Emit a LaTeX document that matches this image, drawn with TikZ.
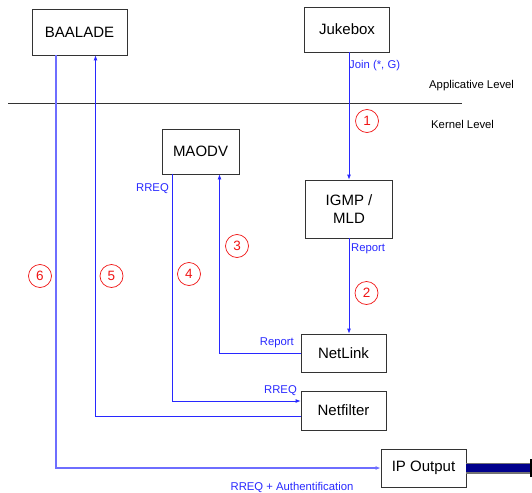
\documentclass[tikz,border=0pt]{standalone}
\usepackage{fontspec}
\setmainfont{Liberation Sans}
\usepackage{xcolor}
\usetikzlibrary{arrows.meta, positioning, calc}
\definecolor{msgblue}{RGB}{40, 40, 255}
\definecolor{paleblue}{RGB}{110, 110, 255}
\definecolor{stepred}{RGB}{240, 20, 20}
\definecolor{linknavy}{RGB}{0, 0, 140}

\tikzset{
  module/.style={draw=black!80, line width=0.8pt, fill=white, inner sep=2pt,
                 align=center, font=\fontsize{15}{18}\selectfont},
  msg/.style={draw=msgblue, line width=0.8pt},
  msgarrow/.style={msg, -{Latex[length=5pt, width=4pt]}},
  msglabel/.style={text=msgblue, inner sep=1pt, font=\fontsize{11.3}{13}\selectfont},
  levellabel/.style={inner sep=1pt, font=\fontsize{11.3}{13}\selectfont},
  stepmark/.style={circle, draw=stepred, text=stepred, line width=0.7pt,
                   minimum size=23pt, inner sep=0pt, font=\fontsize{13.5}{15}\selectfont}
}

\begin{document}
\begin{tikzpicture}[x=1pt, y=-1pt]
            \useasboundingbox (0,0) rectangle (532,492);
            % modules
            \node[module, minimum width=95pt, minimum height=46pt] (baalade) at (79.5,32) {BAALADE};
            \node[module, minimum width=85pt, minimum height=45pt] (jukebox) at (347,29.5) {Jukebox};
            \node[module, minimum width=77pt, minimum height=45pt] (maodv) at (200.5,151.5) {MAODV};
            \node[module, minimum width=87pt, minimum height=58pt] (igmp) at (349,209) {IGMP /\\ MLD};
            \node[module, minimum width=85pt, minimum height=38pt] (netlink) at (343.5,353) {NetLink};
            \node[module, minimum width=85pt, minimum height=39pt] (netfilter) at (343.5,410.5) {Netfilter};
            \node[module, minimum width=85pt, minimum height=38pt] (ipout) at (423.5,468) {IP Output};

            % levels
            \coordinate (levelL) at (8,103);
            \coordinate (levelR) at (462,103);
            \draw[black!80, line width=0.8pt] (levelL) -- (levelR);
            \node[levellabel, anchor=west] (applevel) at (428,86) {Applicative Level};
            \node[levellabel, anchor=west] (kernlevel) at (430,124) {Kernel Level};

            % messages
            \draw[msgarrow] (jukebox.south -| igmp) -- (igmp.north);
            \draw[msgarrow] (igmp.south) -- (igmp.south |- netlink.north);
            \draw[msgarrow] (netlink.west) -| ([xshift=19pt]maodv.south);
            \draw[msgarrow] ([xshift=-28.5pt]maodv.south) |- ([yshift=9.5pt]netfilter.west);
            \draw[msgarrow] ([yshift=-5.5pt]netfilter.west) -| ([xshift=16pt]baalade.south);
            \draw[msgarrow, draw=paleblue, line width=1.2pt] ([xshift=-23.5pt]baalade.south) |- (ipout.west);

            % outgoing link
            \coordinate (linkend) at (531,468);
            \draw[black!55, line width=11pt] (ipout.east) -- (linkend);
            \draw[linknavy, line width=8pt] (ipout.east) -- (linkend);
            \draw[black, line width=2pt] ([yshift=9pt]linkend) -- ([yshift=-9pt]linkend);

            % message labels
            \node[msglabel, anchor=west] (joinlbl) at (348,66) {Join (*, G)};
            \node[msglabel, anchor=east] (rreqtop) at (170,189) {RREQ};
            \node[msglabel, anchor=west] (reportigmp) at (350,249) {Report};
            \node[msglabel, anchor=east] (reportlink) at (295,343) {Report};
            \node[msglabel, anchor=east] (rreqfilter) at (298,391) {RREQ};
            \node[msglabel] (rreqauth) at (292,487) {RREQ + Authentification};

            % steps
            \node[stepmark] (s1) at (367,121) {1};
            \node[stepmark] (s2) at (366.5,293) {2};
            \node[stepmark] (s3) at (237,246) {3};
            \node[stepmark] (s4) at (189,274) {4};
            \node[stepmark] (s5) at (111.5,276) {5};
            \node[stepmark] (s6) at (40,276) {6};
\end{tikzpicture}
\end{document}
